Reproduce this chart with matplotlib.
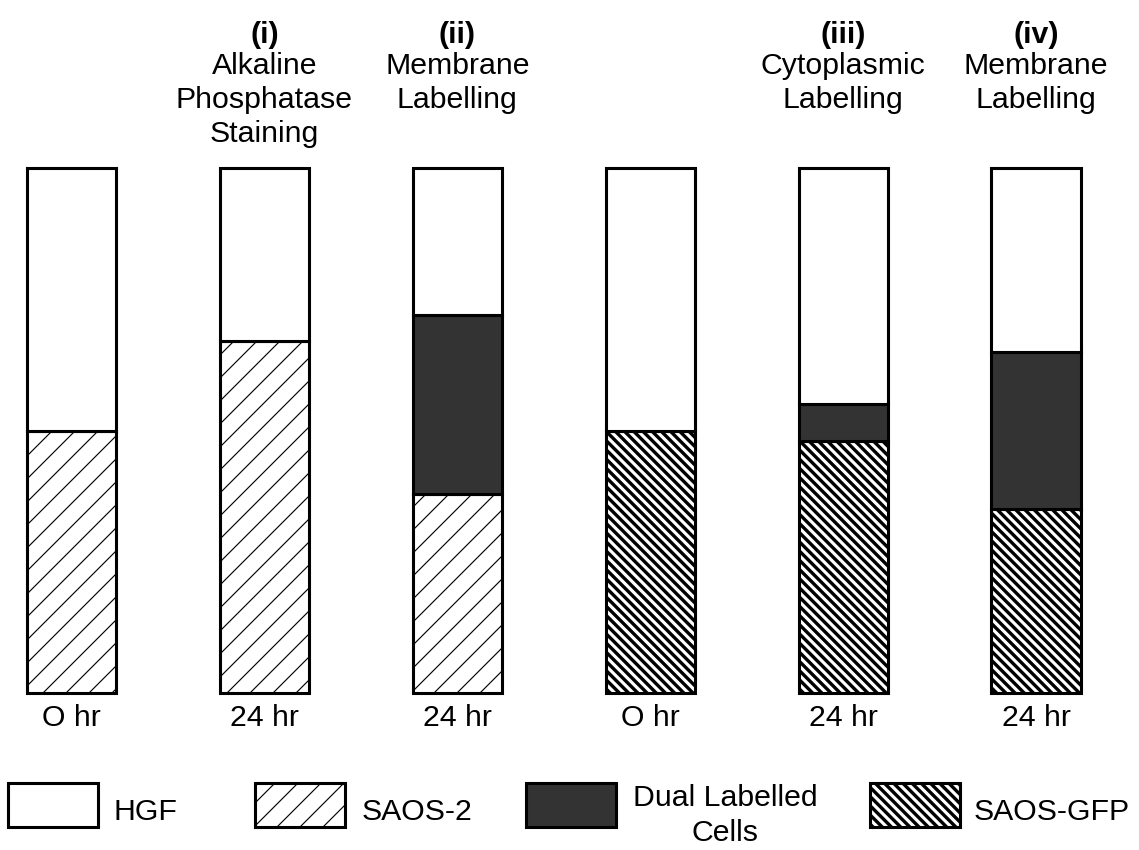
import matplotlib
matplotlib.use("Agg")
import matplotlib.pyplot as plt
import numpy as np
from matplotlib.patches import Rectangle
from matplotlib.transforms import blended_transform_factory

# ---- data -------------------------------------------------------------
time_labels = ["O hr", "24 hr", "24 hr", "O hr", "24 hr", "24 hr"]
panel_numerals = ["", "(i)", "(ii)", "", "(iii)", "(iv)"]
panel_titles = ["", "Alkaline\nPhosphatase\nStaining", "Membrane\nLabelling",
                "", "Cytoplasmic\nLabelling", "Membrane\nLabelling"]

# percentage of each population, stacked bottom -> top
saos2 = [50, 67, 38, 0, 0, 0]
saos_gfp = [0, 0, 0, 50, 48, 35]
dual = [0, 0, 34, 0, 7, 30]
hgf = [50, 33, 28, 50, 45, 35]

legend_labels = ["HGF", "SAOS-2", "Dual Labelled\nCells", "SAOS-GFP"]

# ---- styles -----------------------------------------------------------
DPI = 138
FS = 15.8
FONT = ["Liberation Sans", "DejaVu Sans"]
plt.rcParams["font.family"] = FONT
EDGE_LW = 1.6

styles = {
    "HGF": dict(facecolor="white", hatch=None, hlw=1.0),
    "SAOS-2": dict(facecolor="white", hatch="//", hlw=0.6),
    "Dual": dict(facecolor="#333333", hatch=None, hlw=1.0),
    "SAOS-GFP": dict(facecolor="white", hatch="\\" * 5, hlw=1.75),
}


def style_patch(p, key):
    st = styles[key]
    p.set_facecolor(st["facecolor"])
    p.set_edgecolor("black")
    p.set_linewidth(EDGE_LW)
    if st["hatch"]:
        p.set_hatch(st["hatch"])
        if hasattr(p, "set_hatch_linewidth"):
            p.set_hatch_linewidth(st["hlw"])


fig = plt.figure(figsize=(1139 / DPI, 850 / DPI), dpi=DPI)
W, H = 1139, 850

# axes geometry in pixels: first bar centre 71.5, step ~192.9, y 168..693
x_lo, x_hi = -0.3, 5.3
step = 192.9
left_px = 71.5 + x_lo * step
right_px = 71.5 + x_hi * step
ax = fig.add_axes([left_px / W, (H - 693) / H, (right_px - left_px) / W, 525 / H])
ax.set_xlim(x_lo, x_hi)
ax.set_ylim(0, 100)

x = np.arange(len(time_labels))
bar_w = 0.462

bottom = np.zeros(len(x))
for key, vals in [("SAOS-2", saos2), ("SAOS-GFP", saos_gfp), ("Dual", dual), ("HGF", hgf)]:
    vals = np.asarray(vals, dtype=float)
    for xi, v, b in zip(x, vals, bottom):
        if v <= 0:
            continue
        with plt.rc_context({"hatch.linewidth": styles[key]["hlw"]}):
            bars = ax.bar(xi, v, bar_w, bottom=b, clip_on=False)
        for p in bars:
            style_patch(p, key)
            p.set_clip_on(False)
    bottom += vals

for s in ax.spines.values():
    s.set_visible(False)
ax.set_yticks([])
ax.set_xticks(x, time_labels, fontsize=FS)
ax.tick_params(axis="x", length=0, pad=6)

# overlay in pixel coordinates for titles and legend
lax = fig.add_axes([0, 0, 1, 1], zorder=-1)
lax.set_xlim(0, W)
lax.set_ylim(H, 0)
lax.axis("off")

tr = blended_transform_factory(ax.transData, lax.transData)
for xi, num, title in zip(x, panel_numerals, panel_titles):
    if num:
        lax.text(xi, 21, num, transform=tr, ha="center", va="top",
                 fontsize=FS, fontweight="bold")
    if title:
        lax.text(xi, 52, title, transform=tr, ha="center", va="top",
                 fontsize=FS, linespacing=1.27, multialignment="center")

# legend swatches
keys = ["HGF", "SAOS-2", "Dual", "SAOS-GFP"]
box_x = [8, 255, 526, 870]
for key, bx, lab in zip(keys, box_x, legend_labels):
    with plt.rc_context({"hatch.linewidth": styles[key]["hlw"]}):
        r = Rectangle((bx, 783), 90, 44)
    style_patch(r, key)
    lax.add_patch(r)

lax.text(113, 820, legend_labels[0], fontsize=FS, va="baseline", ha="left")
lax.text(362, 820, legend_labels[1], fontsize=FS, va="baseline", ha="left")
lax.text(725, 784, legend_labels[2], fontsize=FS, va="top", ha="center",
         linespacing=1.3, multialignment="center")
lax.text(974, 820, legend_labels[3], fontsize=FS, va="baseline", ha="left")

fig.savefig("out.png", dpi=DPI, facecolor="white")
